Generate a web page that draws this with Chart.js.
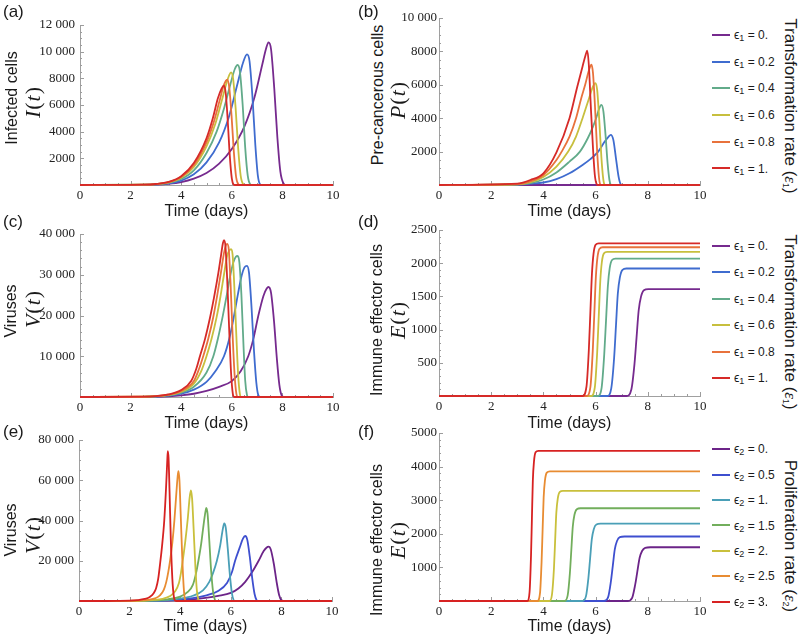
<!DOCTYPE html>
<html><head><meta charset="utf-8">
<script src="https://cdn.jsdelivr.net/npm/chart.js@4.4.0/dist/chart.umd.min.js"></script>
<style>
html,body{margin:0;padding:0;background:#fff;}
#wrap{position:relative;width:800px;height:638px;overflow:hidden;background:#fff;font-family:'Liberation Sans',Arial,sans-serif;color:#1a1a1a;}
canvas{position:absolute;}
.t{position:absolute;white-space:nowrap;line-height:1;font-size:16px;}
.rot{transform:translate(-50%,-50%) rotate(-90deg);}
.rotR{transform:translate(-50%,-50%) rotate(90deg);}
.ctr{transform:translate(-50%,-50%);}
.math{font-family:'Liberation Serif','Times New Roman',serif;font-size:22px;letter-spacing:1px;}
.plab{position:absolute;font-size:17px;line-height:1;}
.leg{position:absolute;font-size:12px;line-height:1;white-space:nowrap;transform:translateY(-50%);}
.leg .sw{display:inline-block;width:18px;height:2px;vertical-align:middle;margin-right:4px;position:relative;top:-1px;}
sub{font-size:9px;vertical-align:-2px;line-height:0;}
</style></head><body><div id="wrap"></div>
<script>
// ---------- axis ticks ----------
const timeTicks = [0, 2, 4, 6, 8, 10];
const timeMinor = [0.5, 1, 1.5, 2.5, 3, 3.5, 4.5, 5, 5.5, 6.5, 7, 7.5, 8.5, 9, 9.5];
const infectedTicks = [2000, 4000, 6000, 8000, 10000, 12000];
const precancerTicks = [2000, 4000, 6000, 8000, 10000];
const virusTicks1 = [10000, 20000, 30000, 40000];
const effectorTicks1 = [500, 1000, 1500, 2000, 2500];
const virusTicks2 = [20000, 40000, 60000, 80000];
const effectorTicks2 = [1000, 2000, 3000, 4000, 5000];

// ---------- legend categories ----------
const eps1Values = ['0.', '0.2', '0.4', '0.6', '0.8', '1.'];
const eps2Values = ['0.', '0.5', '1.', '1.5', '2.', '2.5', '3.'];

// ---------- (a) infected cells I(t), eps1 ----------
const infected_e1_0  = [[0,0],[2.5,10],[3,30],[3.5,90],[4,220],[4.5,480],[5,900],[5.5,1600],[6,2700],[6.5,4400],[6.9,6600],[7.2,9000],[7.35,10200],[7.45,10700],[7.55,10200],[7.68,7200],[7.8,3600],[7.92,1000],[8.05,100],[8.15,0],[10,0]];
const infected_e1_02 = [[0,0],[2.5,15],[3,40],[3.5,120],[4,330],[4.5,800],[5,1700],[5.5,3200],[5.9,5200],[6.2,7400],[6.45,9200],[6.6,9800],[6.7,9300],[6.82,6500],[6.93,3000],[7.03,700],[7.12,50],[7.2,0],[10,0]];
const infected_e1_04 = [[0,0],[2.5,20],[3,50],[3.5,160],[4,450],[4.5,1100],[5,2400],[5.4,4000],[5.7,5800],[5.95,7600],[6.12,8700],[6.23,9000],[6.32,8500],[6.43,6000],[6.53,2800],[6.63,700],[6.73,50],[6.8,0],[10,0]];
const infected_e1_06 = [[0,0],[2.5,22],[3,60],[3.5,190],[4,540],[4.5,1350],[5,2900],[5.35,4600],[5.6,6300],[5.8,7700],[5.9,8250],[5.97,8450],[6.05,8000],[6.15,5800],[6.25,2800],[6.35,700],[6.45,60],[6.52,0],[10,0]];
const infected_e1_08 = [[0,0],[2.5,25],[3,70],[3.5,210],[4,600],[4.5,1500],[5,3200],[5.3,4800],[5.5,6200],[5.67,7400],[5.76,7800],[5.82,7900],[5.9,7300],[5.99,5200],[6.08,2500],[6.17,600],[6.26,50],[6.32,0],[10,0]];
const infected_e1_1  = [[0,0],[2.5,28],[3,75],[3.5,230],[4,660],[4.5,1650],[5,3500],[5.25,5000],[5.45,6500],[5.6,7250],[5.69,7450],[5.76,6900],[5.84,4800],[5.92,2200],[6.0,500],[6.07,40],[6.12,0],[10,0]];

// ---------- (b) pre-cancerous cells P(t), eps1 ----------
const precancer_e1_0  = [[0,0],[10,0]];
const precancer_e1_02 = [[0,0],[3,30],[3.5,80],[4,150],[4.5,350],[5,700],[5.5,1200],[5.8,1550],[6.1,2000],[6.35,2600],[6.5,2900],[6.58,3000],[6.68,2700],[6.78,1600],[6.88,500],[6.96,50],[7.02,0],[10,0]];
const precancer_e1_04 = [[0,0],[3,30],[3.5,110],[4,330],[4.5,750],[5,1400],[5.4,2000],[5.7,2800],[5.9,3500],[6.02,4000],[6.13,4550],[6.22,4800],[6.3,4400],[6.38,3000],[6.46,1300],[6.53,300],[6.58,20],[6.62,0],[10,0]];
const precancer_e1_06 = [[0,0],[3,45],[3.5,170],[4,480],[4.5,1100],[4.95,2000],[5.25,2900],[5.5,4000],[5.75,5200],[5.9,5900],[5.99,6100],[6.06,5700],[6.14,3900],[6.22,1700],[6.29,400],[6.34,30],[6.38,0],[10,0]];
const precancer_e1_08 = [[0,0],[3,60],[3.5,220],[4,600],[4.5,1500],[4.7,2000],[5,2900],[5.25,4000],[5.45,5200],[5.6,6000],[5.75,6900],[5.84,7200],[5.9,6700],[5.98,4600],[6.06,2000],[6.13,450],[6.18,30],[6.22,0],[10,0]];
const precancer_e1_1  = [[0,0],[3,80],[3.5,300],[4,700],[4.5,1950],[5,4000],[5.3,5900],[5.5,7100],[5.62,7800],[5.68,8050],[5.74,7200],[5.82,4600],[5.9,2200],[5.97,600],[6.04,50],[6.08,0],[10,0]];

// ---------- (c) viruses V(t), eps1 ----------
const virus_e1_0  = [[0,0],[2.5,20],[3,60],[3.5,170],[4,400],[4.5,800],[5,1500],[5.5,2500],[6,3900],[6.35,6300],[6.65,10000],[6.85,14200],[7.05,20000],[7.25,24800],[7.38,26600],[7.45,27000],[7.55,25600],[7.67,18500],[7.78,9500],[7.88,3000],[7.97,400],[8.05,0],[10,0]];
const virus_e1_02 = [[0,0],[2.5,40],[3,120],[3.5,330],[4,800],[4.5,1800],[5,3700],[5.35,6300],[5.69,10000],[5.9,14300],[6.06,19000],[6.25,25500],[6.39,29800],[6.5,31800],[6.6,32200],[6.68,30500],[6.78,22000],[6.88,11000],[6.97,3500],[7.05,400],[7.12,0],[10,0]];
const virus_e1_04 = [[0,0],[2.5,50],[3,150],[3.5,420],[4,1050],[4.5,2500],[5,6000],[5.27,10000],[5.45,14300],[5.64,19800],[5.8,25000],[5.93,29500],[6.06,33000],[6.16,34400],[6.23,34600],[6.3,33000],[6.38,25000],[6.46,13000],[6.53,4000],[6.6,500],[6.65,0],[10,0]];
const virus_e1_06 = [[0,0],[2.5,60],[3,180],[3.5,500],[4,1300],[4.5,3300],[4.8,6500],[5,10000],[5.2,14300],[5.4,19600],[5.55,24600],[5.69,30000],[5.82,34800],[5.91,36000],[5.97,36300],[6.03,35000],[6.1,27000],[6.18,15000],[6.25,5500],[6.32,700],[6.37,0],[10,0]];
const virus_e1_08 = [[0,0],[2.5,65],[3,200],[3.5,560],[4,1500],[4.5,3900],[4.7,6800],[4.87,10000],[5.07,14300],[5.27,19700],[5.42,24800],[5.57,30500],[5.69,35300],[5.77,37300],[5.82,37600],[5.88,36200],[5.95,28000],[6.03,15500],[6.11,5500],[6.18,800],[6.23,0],[10,0]];
const virus_e1_1  = [[0,0],[2.5,70],[3,220],[3.5,620],[4,1700],[4.4,4000],[4.6,7000],[4.74,10000],[4.94,14200],[5.14,19500],[5.3,24500],[5.47,30500],[5.58,35000],[5.65,37800],[5.69,38500],[5.75,37000],[5.82,28500],[5.9,16000],[5.97,6000],[6.04,800],[6.09,0],[10,0]];

// ---------- (d) immune effector cells E(t), eps1 ----------
const effector_e1_0  = [[0,0],[7.19,0],[7.37,97],[7.49,483],[7.57,886],[7.65,1288],[7.74,1497],[7.85,1594],[8.02,1610],[10,1610]];
const effector_e1_02 = [[0,0],[6.45,0],[6.6,115],[6.71,576],[6.78,1056],[6.85,1536],[6.93,1786],[7.03,1901],[7.18,1920],[10,1920]];
const effector_e1_04 = [[0,0],[6.08,0],[6.23,124],[6.33,621],[6.4,1139],[6.47,1656],[6.54,1925],[6.63,2049],[6.76,2070],[10,2070]];
const effector_e1_06 = [[0,0],[5.82,0],[5.97,130],[6.06,651],[6.12,1194],[6.18,1736],[6.24,2018],[6.32,2148],[6.44,2170],[10,2170]];
const effector_e1_08 = [[0,0],[5.65,0],[5.8,134],[5.89,672],[5.95,1232],[6.01,1792],[6.07,2083],[6.15,2218],[6.27,2240],[10,2240]];
const effector_e1_1  = [[0,0],[5.5,0],[5.65,140],[5.74,690],[5.8,1265],[5.86,1840],[5.92,2140],[6.0,2277],[6.12,2300],[10,2300]];

// ---------- (e) viruses V(t), eps2 ----------
const virus_e2_0  = [[0,0],[2.5,20],[3,60],[3.5,170],[4,400],[4.5,800],[5,1500],[5.5,2500],[6,4000],[6.3,6200],[6.57,9500],[6.85,14500],[7.1,20000],[7.3,24800],[7.42,26600],[7.49,27000],[7.58,25600],[7.7,18500],[7.81,9500],[7.91,3000],[8.0,400],[8.08,0],[10,0]];
const virus_e2_05 = [[0,0],[2,15],[2.5,45],[3,120],[3.5,300],[4,700],[4.5,1400],[5,2700],[5.5,5000],[5.85,9000],[6.05,14500],[6.17,20000],[6.35,26500],[6.48,31000],[6.57,32300],[6.65,30500],[6.75,22000],[6.85,11000],[6.94,3500],[7.02,400],[7.08,0],[10,0]];
const virus_e2_1  = [[0,0],[2,20],[2.5,70],[3,190],[3.5,480],[4,1150],[4.5,2600],[4.9,5300],[5.15,9500],[5.3,14000],[5.45,20000],[5.58,27500],[5.68,35500],[5.74,38600],[5.8,36500],[5.88,26000],[5.96,13500],[6.04,4200],[6.11,500],[6.16,0],[10,0]];
const virus_e2_15 = [[0,0],[1.5,10],[2,35],[2.5,110],[3,320],[3.5,850],[4,2200],[4.3,4500],[4.5,8000],[4.62,13500],[4.72,20000],[4.83,28500],[4.93,38500],[5.0,44500],[5.03,46300],[5.08,43500],[5.15,30000],[5.22,15500],[5.3,4500],[5.37,600],[5.42,0],[10,0]];
const virus_e2_2  = [[0,0],[1.5,15],[2,55],[2.5,180],[3,520],[3.3,1100],[3.6,2500],[3.8,4800],[3.95,9000],[4.03,14000],[4.1,20000],[4.2,29500],[4.3,41000],[4.37,51000],[4.42,55000],[4.47,51000],[4.53,36000],[4.6,17000],[4.66,5000],[4.72,600],[4.77,0],[10,0]];
const virus_e2_25 = [[0,0],[1.5,25],[2,90],[2.5,300],[2.8,700],[3,1300],[3.2,2800],[3.35,5500],[3.45,9500],[3.53,14500],[3.6,20000],[3.69,29000],[3.77,40000],[3.85,54000],[3.9,62000],[3.93,64500],[3.97,60000],[4.02,43000],[4.08,22000],[4.14,6500],[4.19,700],[4.24,0],[10,0]];
const virus_e2_3  = [[0,0],[1,10],[1.5,40],[2,150],[2.3,400],[2.6,1000],[2.8,2000],[2.95,3800],[3.05,6500],[3.13,11000],[3.2,18000],[3.28,27000],[3.37,40000],[3.44,56000],[3.49,70000],[3.51,74500],[3.54,71000],[3.58,54000],[3.63,30000],[3.69,11000],[3.75,2000],[3.8,200],[3.85,0],[10,0]];

// ---------- (f) immune effector cells E(t), eps2 ----------
const effector_e2_0  = [[0,0],[7.22,0],[7.4,96],[7.515,480],[7.6,880],[7.685,1280],[7.78,1488],[7.9,1584],[8.1,1600],[10,1600]];
const effector_e2_05 = [[0,0],[6.32,0],[6.48,115],[6.585,576],[6.66,1056],[6.735,1536],[6.82,1786],[6.93,1901],[7.11,1920],[10,1920]];
const effector_e2_1  = [[0,0],[5.49,0],[5.63,138],[5.725,690],[5.79,1265],[5.855,1840],[5.93,2139],[6.03,2277],[6.19,2300],[10,2300]];
const effector_e2_15 = [[0,0],[4.81,0],[4.93,166],[5.015,828],[5.07,1518],[5.125,2208],[5.19,2567],[5.28,2732],[5.42,2760],[10,2760]];
const effector_e2_2  = [[0,0],[4.23,0],[4.33,197],[4.405,984],[4.45,1804],[4.495,2624],[4.55,3050],[4.63,3247],[4.75,3280],[10,3280]];
const effector_e2_25 = [[0,0],[3.77,0],[3.87,232],[3.93,1158],[3.97,2123],[4.01,3088],[4.06,3590],[4.13,3821],[4.25,3860],[10,3860]];
const effector_e2_3  = [[0,0],[3.38,0],[3.47,268],[3.525,1341],[3.56,2459],[3.595,3576],[3.64,4157],[3.7,4425],[3.81,4470],[10,4470]];

// ---------- styles ----------
const eps1Colors = ['#762a8e', '#3f6ccf', '#62ab8a', '#c7bf3e', '#e8723c', '#d62a28'];
const eps2Colors = ['#6c2488', '#3e4fcf', '#4a9fb7', '#72ae5c', '#c9c03c', '#e88c32', '#d72222'];
const serif = "'Liberation Serif','Times New Roman',serif";

const panels = [
  {tag:'(a)', cx:0,   area:{left:80, right:333, top:25,  bottom:185}, yMax:12000, yTicks:infectedTicks,  yMinor:500,  tickPad:5,
   series:[infected_e1_0,infected_e1_02,infected_e1_04,infected_e1_06,infected_e1_08,infected_e1_1], colors:eps1Colors,
   ylab:'Infected cells', sym:'I', labPos:[12,98,33,102], tagPos:[3,3], xlabY:211},
  {tag:'(b)', cx:394, area:{left:439, right:700, top:18,  bottom:185}, yMax:10000, yTicks:precancerTicks, yMinor:500,  tickPad:2,
   series:[precancer_e1_0,precancer_e1_02,precancer_e1_04,precancer_e1_06,precancer_e1_08,precancer_e1_1], colors:eps1Colors,
   ylab:'Pre-cancerous cells', sym:'P', labPos:[378,95,398,100], tagPos:[358,3], xlabY:211},
  {tag:'(c)', cx:0,   area:{left:80, right:333, top:234, bottom:397}, yMax:40000, yTicks:virusTicks1,    yMinor:2000, tickPad:5,
   series:[virus_e1_0,virus_e1_02,virus_e1_04,virus_e1_06,virus_e1_08,virus_e1_1], colors:eps1Colors,
   ylab:'Viruses', sym:'V', labPos:[11,311,33,309], tagPos:[3,213], xlabY:423},
  {tag:'(d)', cx:394, area:{left:439, right:700, top:230, bottom:396}, yMax:2500,  yTicks:effectorTicks1, yMinor:100,  tickPad:2,
   series:[effector_e1_0,effector_e1_02,effector_e1_04,effector_e1_06,effector_e1_08,effector_e1_1], colors:eps1Colors,
   ylab:'Immune effector cells', sym:'E', labPos:[377,320,398,320], tagPos:[358,213], xlabY:423},
  {tag:'(e)', cx:0,   area:{left:79, right:332, top:440, bottom:601}, yMax:80000, yTicks:virusTicks2,    yMinor:5000, tickPad:5,
   series:[virus_e2_0,virus_e2_05,virus_e2_1,virus_e2_15,virus_e2_2,virus_e2_25,virus_e2_3], colors:eps2Colors,
   ylab:'Viruses', sym:'V', labPos:[11,530,33,535], tagPos:[3,423], xlabY:626},
  {tag:'(f)', cx:394, area:{left:439, right:700, top:433, bottom:601}, yMax:5000,  yTicks:effectorTicks2, yMinor:200,  tickPad:2,
   series:[effector_e2_0,effector_e2_05,effector_e2_1,effector_e2_15,effector_e2_2,effector_e2_25,effector_e2_3], colors:eps2Colors,
   ylab:'Immune effector cells', sym:'E', labPos:[377,540,398,540], tagPos:[358,423], xlabY:626}
];

const legends = [
  {x:712, y0:35,    step:26.7, sub:'1', values:eps1Values, colors:eps1Colors, title:'Transformation rate', ty:106},
  {x:712, y0:245.7, step:26.5, sub:'1', values:eps1Values, colors:eps1Colors, title:'Transformation rate', ty:322},
  {x:712, y0:449.3, step:25.4, sub:'2', values:eps2Values, colors:eps2Colors, title:'Proliferation rate', ty:536}
];

const wrap = document.getElementById('wrap');
function fmt(v){ return v >= 10000 ? String(v).replace(/\B(?=(\d{3})+(?!\d))/g, ' ') : String(v); }
function addDiv(html, cls, style){ const d=document.createElement('div'); d.className=cls; d.innerHTML=html; Object.assign(d.style, style); wrap.appendChild(d); return d; }

function inTicks(p){
  return { id:'inTicks', beforeDatasetsDraw(chart){
    const {ctx, chartArea:a, scales:{x, y}} = chart;
    ctx.save(); ctx.strokeStyle = '#9c9c9c'; ctx.lineWidth = 1; ctx.beginPath();
    timeTicks.forEach(v => { const px = Math.round(x.getPixelForValue(v)) + 0.5; ctx.moveTo(px, a.bottom); ctx.lineTo(px, a.bottom - 4); });
    timeMinor.forEach(v => { const px = Math.round(x.getPixelForValue(v)) + 0.5; ctx.moveTo(px, a.bottom); ctx.lineTo(px, a.bottom - 2); });
    p.yTicks.forEach(v => { const py = Math.round(y.getPixelForValue(v)) + 0.5; ctx.moveTo(a.left, py); ctx.lineTo(a.left + 4, py); });
    for (let v = p.yMinor; v < p.yMax; v += p.yMinor) {
      if (p.yTicks.includes(v)) continue;
      const py = Math.round(y.getPixelForValue(v)) + 0.5; ctx.moveTo(a.left, py); ctx.lineTo(a.left + 2, py);
    }
    ctx.stroke(); ctx.restore();
  }};
}

panels.forEach(p => {
  const yw = p.area.left - p.cx;
  const cw = p.area.right + 12 - p.cx;
  const ct = p.area.top - 20;
  const ch = p.area.bottom + 26 - ct;
  const cv = document.createElement('canvas');
  cv.width = cw; cv.height = ch;
  Object.assign(cv.style, {left:p.cx+'px', top:ct+'px', width:cw+'px', height:ch+'px'});
  wrap.appendChild(cv);
  const n = p.series.length;
  new Chart(cv, {
    type:'line',
    data:{ datasets: p.series.map((s, i) => ({
      label: String(i),
      data: s.map(([x, y]) => ({x, y})),
      borderColor: p.colors[i], backgroundColor: p.colors[i], borderWidth: 1.8,
      pointRadius: 0, fill: false, cubicInterpolationMode: 'monotone',
      order: n - 1 - i, clip: 4
    })) },
    options:{
      responsive:false, animation:false, devicePixelRatio:1,
      layout:{ padding:{ left:0, right:12, top:20, bottom:0 } },
      plugins:{ legend:{display:false}, tooltip:{enabled:false} },
      scales:{
        x:{ type:'linear', min:0, max:10,
            afterBuildTicks: s => { s.ticks = timeTicks.map(v => ({value:v})); },
            afterFit: s => { s.height = 26; },
            ticks:{ font:{family:serif, size:13}, color:'#222', padding:3, maxRotation:0, autoSkip:false, callback: v => String(v) },
            grid:{ display:false, drawTicks:false }, border:{ display:true, color:'#a0a0a0', width:1 } },
        y:{ type:'linear', min:0, max:p.yMax,
            afterBuildTicks: s => { s.ticks = p.yTicks.map(v => ({value:v})); },
            afterFit: s => { s.width = yw; },
            ticks:{ font:{family:serif, size:13}, color:'#222', padding:p.tickPad, autoSkip:false, callback: v => fmt(v) },
            grid:{ display:false, drawTicks:false }, border:{ display:true, color:'#a0a0a0', width:1 } }
      }
    },
    plugins:[inTicks(p)]
  });
  // titles
  const [lx, ly, mx, my] = p.labPos;
  addDiv(p.ylab, 't rot', {left:lx+'px', top:ly+'px'});
  addDiv('<i>'+p.sym+'</i>(<i>t</i>)', 't math rot', {left:mx+'px', top:my+'px'});
  addDiv('Time (days)', 't ctr', {left:((p.area.left+p.area.right)/2)+'px', top:p.xlabY+'px'});
  addDiv(p.tag, 'plab', {left:p.tagPos[0]+'px', top:p.tagPos[1]+'px'});
});

legends.forEach(L => {
  L.values.forEach((v, i) => {
    addDiv('<span class="sw" style="background:'+L.colors[i]+'"></span>\u03f5<sub>'+L.sub+'</sub> = '+v, 'leg',
           {left:L.x+'px', top:(L.y0 + i*L.step)+'px'});
  });
  addDiv(L.title+' (<i style="font-family:'+serif+'">\u03b5</i><sub>'+L.sub+'</sub>)', 't rotR', {left:'790px', top:L.ty+'px', fontSize:'17px'});
});
</script>
</body></html>
